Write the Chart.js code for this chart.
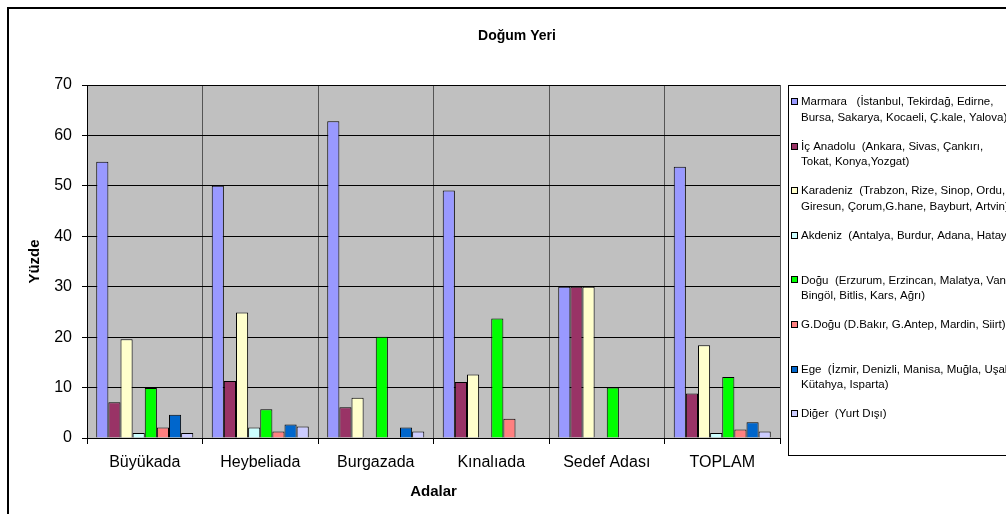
<!DOCTYPE html>
<html>
<head>
<meta charset="utf-8">
<script src="https://cdn.jsdelivr.net/npm/chart.js@4"></script>
<style>
html,body{margin:0;padding:0;background:#fff;}
#wrap{position:relative;width:1006px;height:514px;}
</style>
</head>
<body>
<div id="wrap"><canvas id="c"></canvas></div>
<script>
const chartTitle = 'Doğum Yeri';
const xTitle = 'Adalar';
const yTitle = 'Yüzde';
const categories = ['Büyükada', 'Heybeliada', 'Burgazada', 'Kınalıada', 'Sedef Adası', 'TOPLAM'];
const seriesNames = [
  'Marmara   (İstanbul, Tekirdağ, Edirne,\nBursa, Sakarya, Kocaeli, Ç.kale, Yalova)',
  'İç Anadolu  (Ankara, Sivas, Çankırı,\nTokat, Konya,Yozgat)',
  'Karadeniz  (Trabzon, Rize, Sinop, Ordu,\nGiresun, Çorum,G.hane, Bayburt, Artvin)',
  'Akdeniz  (Antalya, Burdur, Adana, Hatay)',
  'Doğu  (Erzurum, Erzincan, Malatya, Van,\nBingöl, Bitlis, Kars, Ağrı)',
  'G.Doğu (D.Bakır, G.Antep, Mardin, Siirt)',
  'Ege  (İzmir, Denizli, Manisa, Muğla, Uşak,\nKütahya, Isparta)',
  'Diğer  (Yurt Dışı)'
];
const seriesColors = ['#9999FF', '#993366', '#FFFFCC', '#CCFFFF', '#00FF00', '#FF8080', '#0066CC', '#CCCCFF'];
const marmara   = [54.8, 50.0, 62.8, 49.1, 30.0, 53.8];
const icAnadolu = [7.1, 11.3, 6.1, 11.1, 30.0, 8.8];
const karadeniz = [19.6, 24.9, 8.0, 12.6, 30.0, 18.4];
const akdeniz   = [1.0, 2.1, 0, 0, 0, 1.0];
const dogu      = [9.9, 5.7, 20.1, 23.7, 10.0, 12.1];
const gDogu     = [2.1, 1.3, 0, 3.8, 0, 1.7];
const ege       = [4.6, 2.7, 2.1, 0, 0, 3.1];
const diger     = [1.0, 2.3, 1.3, 0, 0, 1.3];
const yTicks    = [0, 10, 20, 30, 40, 50, 60, 70];

const seriesValues = [marmara, icAnadolu, karadeniz, akdeniz, dogu, gDogu, ege, diger];

const FONT = '"Liberation Sans", Arial, sans-serif';
Chart.defaults.font.family = FONT;
Chart.defaults.color = '#000';

const decor = {
  id: 'decor',
  beforeDraw(chart) {
    const {ctx, chartArea: a} = chart;
    ctx.save();
    ctx.fillStyle = '#fff';
    ctx.fillRect(0, 0, chart.width, chart.height);
    ctx.fillStyle = '#C0C0C0';
    ctx.fillRect(a.left, a.top, a.right - a.left, a.bottom - a.top);
    ctx.restore();
  },
  afterDraw(chart) {
    const {ctx} = chart;
    ctx.save();
    // outer frame
    ctx.strokeStyle = '#000';
    ctx.lineWidth = 2;
    ctx.strokeRect(8, 8, chart.width + 10, chart.height + 10);
    // title
    ctx.fillStyle = '#000';
    ctx.font = 'bold 14px ' + FONT;
    ctx.textAlign = 'center';
    ctx.textBaseline = 'middle';
    ctx.fillText(chartTitle, 517, 36);
    // legend box
    ctx.lineWidth = 1;
    ctx.strokeRect(788.5, 85.5, 240, 370);
    ctx.font = '11.5px ' + FONT;
    ctx.textAlign = 'left';
    chart.data.datasets.forEach((ds, i) => {
      const y = 102 + i * 44.6;
      ctx.fillStyle = ds.backgroundColor;
      ctx.fillRect(791, Math.round(y) - 4, 7, 7);
      ctx.strokeStyle = '#000';
      ctx.strokeRect(791.5, Math.round(y) - 3.5, 6, 6);
      ctx.fillStyle = '#000';
      ds.label.split('\n').forEach((line, k) => {
        ctx.fillText(line, 801, y + k * 15.5);
      });
    });
    ctx.restore();
  }
};

new Chart(document.getElementById('c'), {
  type: 'bar',
  data: {
    labels: categories,
    datasets: seriesValues.map((vals, i) => ({
      label: seriesNames[i],
      data: vals,
      backgroundColor: seriesColors[i],
      borderColor: '#000',
      borderWidth: 1,
      categoryPercentage: 0.84,
      barPercentage: 1.0
    }))
  },
  options: {
    responsive: true,
    maintainAspectRatio: false,
    animation: false,
    layout: {padding: {top: 85, right: 226, left: 0, bottom: 0}},
    plugins: {legend: {display: false}, title: {display: false}, tooltip: {enabled: false}},
    scales: {
      x: {
        afterFit(s) { s.height = 76; },
        grid: {offset: true, color: '#555', lineWidth: 1, drawTicks: true, tickLength: 6, tickColor: '#000'},
        border: {color: '#000', width: 1},
        ticks: {font: {size: 16}, color: '#000', padding: 9, maxRotation: 0},
        title: {display: true, text: xTitle, font: {size: 15, weight: 'bold'}, color: '#000', padding: {top: 0, bottom: 13}}
      },
      y: {
        min: 0, max: 70,
        afterFit(s) { s.width = 87; },
        afterBuildTicks(s) { s.ticks = yTicks.map(v => ({value: v})); },
        grid: {color: '#000', lineWidth: 1, drawTicks: true, tickLength: 5, tickColor: '#000'},
        border: {color: '#000', width: 1},
        ticks: {font: {size: 16}, color: '#000', padding: 10},
        title: {display: true, text: yTitle, font: {size: 15, weight: 'bold'}, color: '#000', padding: {top: 26, bottom: 0}}
      }
    }
  },
  plugins: [decor]
});
</script>
</body>
</html>
